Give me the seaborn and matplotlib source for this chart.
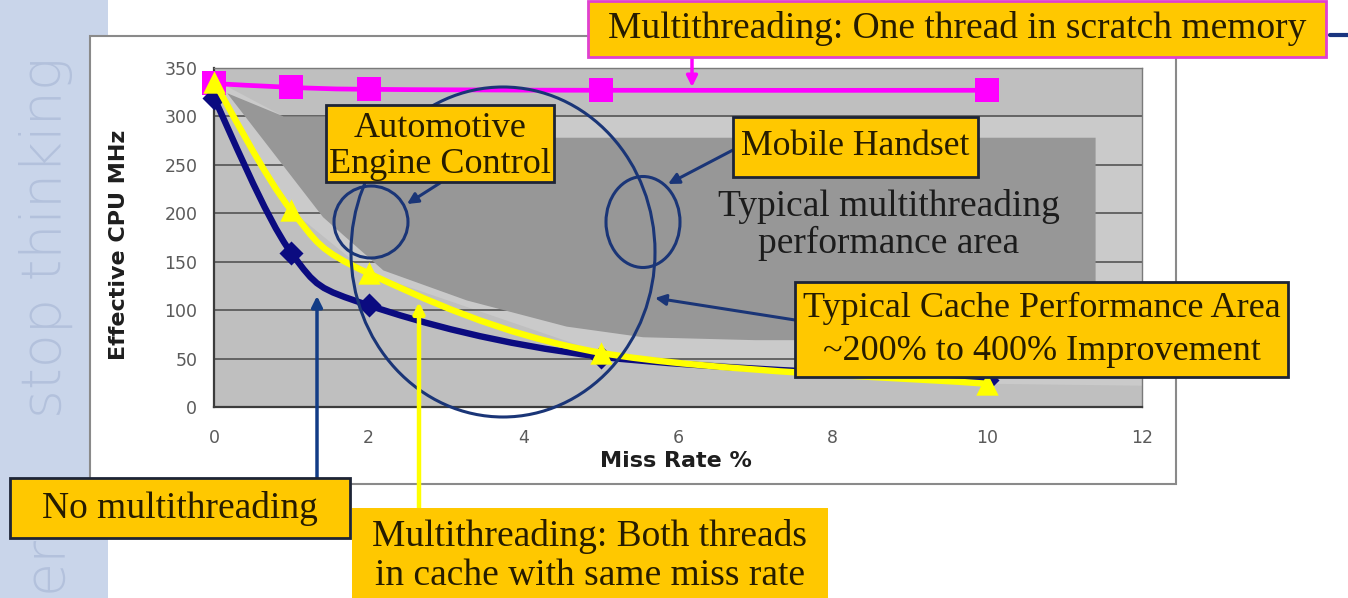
import numpy as np
import pandas as pd
import matplotlib
matplotlib.use("Agg")
import matplotlib.pyplot as plt
import seaborn as sns
from matplotlib.patches import Rectangle, Ellipse, Polygon, PathPatch
from matplotlib.path import Path
from matplotlib.lines import Line2D

# ---- data -------------------------------------------------------------
miss_rate = [0, 1, 2, 5, 10]
no_multithreading = [319, 159, 105, 52, 28]
mt_both_in_cache = [336, 203, 138, 56, 24]
mt_one_in_scratch = [334, 330, 328, 327, 327]

x_ticks = [0, 2, 4, 6, 8, 10, 12]
y_ticks = [0, 50, 100, 150, 200, 250, 300, 350]

# shaded regions (miss rate %, MHz)
cache_area_x = [0.05, 0.9, 12.0, 12.0, 10, 5, 2, 1, 0]
cache_area_y = [336, 300, 300, 22, 24, 56, 138, 203, 336]
mt_area_x = [0.17, 0.9, 1.45, 4.4, 11.4, 11.4, 7.0, 5.55, 4.56, 3.27, 2.19, 1.41]
mt_area_y = [324, 300, 300, 278, 278, 69, 69, 72, 83, 110, 141, 196]

# ---- style ------------------------------------------------------------
W, H = 1348, 598
sns.set_theme(style="white")
plt.rcParams["font.family"] = ["DejaVu Sans"]

NAVY = "#0b0b80"
ANN = "#1a3577"
BOX = "#ffc800"
BOX_TXT = "#261c00"
SERIF = ["Liberation Serif", "DejaVu Serif"]

fig = plt.figure(figsize=(W / 100, H / 100), dpi=100)
fig.patch.set_facecolor("white")


def fp(x, y):
    """pixel position measured from the top-left corner -> figure fraction"""
    return (x / W, 1 - y / H)


# slide side band with faint watermark
fig.add_artist(Rectangle((0, 0), 108 / W, 1, transform=fig.transFigure,
                         fc="#c9d5ea", ec="none", zorder=-3))
fig.text(*fp(46, 418), "stop thinking", rotation=90, ha="center", va="bottom",
         fontsize=40, color="#b3c1dc", fontweight="light", zorder=-2)
fig.text(*fp(46, 592), "er", rotation=90, ha="center", va="bottom",
         fontsize=40, color="#b3c1dc", fontweight="light", zorder=-2)
fig.add_artist(Line2D([1330 / W, 1], [1 - 35 / H] * 2, transform=fig.transFigure,
                      color="#1a3580", lw=3, zorder=-2))

# chart frame
x0, y0 = fp(90, 484)
fig.add_artist(Rectangle((x0, y0), (1176 - 90) / W, (484 - 36) / H,
                         transform=fig.transFigure, fc="white", ec="#8a8a8a",
                         lw=1.5, zorder=-1))

ax = fig.add_axes([214 / W, 1 - 407 / H, (1142 - 214) / W, (407 - 68) / H])
ax.set_facecolor("#bfbfbf")
ax.set_xlim(0, 12)
ax.set_ylim(0, 350)

# regions
ax.add_patch(Polygon(np.column_stack([cache_area_x, cache_area_y]), closed=True,
                     fc="#cacaca", ec="none", zorder=0.5))
for yv in y_ticks[1:]:
    ax.axhline(yv, color="#4a4a4a", lw=1.1, zorder=0.8)
ax.add_patch(Polygon(np.column_stack([mt_area_x, mt_area_y]), closed=True,
                     fc="#979797", ec="none", zorder=1))


def smooth_path(xs, ys, t=1 / 6):
    pts = np.column_stack([xs, ys]).astype(float)
    n = len(pts)
    verts, codes = [pts[0]], [Path.MOVETO]
    for i in range(n - 1):
        p0 = pts[i - 1] if i > 0 else pts[i]
        p1, p2 = pts[i], pts[i + 1]
        p3 = pts[i + 2] if i + 2 < n else pts[i + 1]
        verts += [p1 + (p2 - p0) * t, p2 - (p3 - p1) * t, p2]
        codes += [Path.CURVE4] * 3
    return Path(verts, codes)


df = pd.DataFrame({
    "miss": miss_rate * 3,
    "mhz": no_multithreading + mt_both_in_cache + mt_one_in_scratch,
    "config": (["No multithreading"] * 5 + ["Both threads in cache"] * 5
               + ["One thread in scratch"] * 5),
})
# drawing order: scratch (bottom), no multithreading, both in cache (top)
styles = {
    "One thread in scratch": ("#ff00ff", "s", 320, 3.4),
    "No multithreading": (NAVY, "D", 150, 4.6),
    "Both threads in cache": ("#ffff00", "^", 260, 4.6),
}
for k, (name, (col, mk, sz, lw)) in enumerate(styles.items()):
    sub = df[df["config"] == name]
    ax.add_patch(PathPatch(smooth_path(sub["miss"], sub["mhz"]), fc="none",
                           ec=col, lw=lw, capstyle="round", zorder=3 + k * 0.1))
    sns.scatterplot(data=sub, x="miss", y="mhz", marker=mk, s=sz, color=col,
                    linewidth=0, ax=ax, zorder=3.05 + k * 0.1, clip_on=False,
                    legend=False)

# axes
ax.set_xticks(x_ticks)
ax.set_yticks(y_ticks)
ax.tick_params(axis="both", direction="out", length=7, width=1, color="#444444",
               labelcolor="#5a5a5a", labelsize=12.5, pad=5)
ax.tick_params(axis="x", pad=9)
for s in ("left", "bottom"):
    ax.spines[s].set_color("#3c3c3c")
    ax.spines[s].set_linewidth(1.6)
for s in ("top", "right"):
    ax.spines[s].set_color("#7a7a7a")
    ax.spines[s].set_linewidth(1.0)
ax.set_xlabel("Miss Rate %", fontsize=16, fontweight="bold", color="#1e1e1e")
ax.set_ylabel("Effective CPU MHz", fontsize=16, fontweight="bold", color="#1e1e1e")
ax.xaxis.set_label_coords((676 - 214) / (1142 - 214), -(451 - 407) / (407 - 68))
ax.yaxis.set_label_coords(-(214 - 129) / (1142 - 214), (407 - 245) / (407 - 68))


# annotation circles
def px2data(x, y):
    return ((x - 214) / (1142 - 214) * 12, (407 - y) / (407 - 68) * 350)


def add_ellipse(cx, cy, w, h):
    dx, dy = px2data(cx, cy)
    ax.add_patch(Ellipse((dx, dy), w / (1142 - 214) * 12, h / (407 - 68) * 350,
                         fc="none", ec=ANN, lw=2.2, zorder=5, clip_on=False))


add_ellipse(503, 252, 304, 330)
add_ellipse(371, 222, 74, 72)
add_ellipse(643, 222, 74, 91)

ax.text(*px2data(889, 225), "Typical multithreading\nperformance area",
        ha="center", va="center", fontsize=27, color="#1c1c1c",
        family=SERIF, linespacing=1.1, zorder=5)


# call-out boxes
def box(x1, y1, x2, y2, text, ec, size, lw=2.0, ls=1.0, cx=None, cy=None):
    bx, by = fp(x1, y2)
    fig.add_artist(Rectangle((bx, by), (x2 - x1) / W, (y2 - y1) / H,
                             transform=fig.transFigure, fc=BOX, ec=ec, lw=lw,
                             zorder=6))
    cx = (x1 + x2) / 2 if cx is None else cx
    cy = (y1 + y2) / 2 if cy is None else cy
    fig.text(*fp(cx, cy), text, ha="center", va="center", fontsize=size,
             color=BOX_TXT, family=SERIF, linespacing=ls, zorder=7)


def arrow(x_from, y_from, x_to, y_to, color, lw=2.2):
    ax.annotate("", xy=px2data(x_to, y_to), xycoords="data",
                xytext=fp(x_from, y_from), textcoords="figure fraction",
                arrowprops=dict(arrowstyle="-|>", color=color, lw=lw,
                                mutation_scale=16, shrinkA=0, shrinkB=0),
                annotation_clip=False, zorder=6)


arrow(692, 57, 692, 87, "#ff00ff", lw=2.5)
arrow(440, 183, 407, 204, ANN)
arrow(733, 150, 668, 184, ANN)
arrow(795, 320, 655, 298, ANN)
arrow(317, 478, 317, 296, "#123c86", lw=2.5)
arrow(419, 508, 419, 302, "#ffff00", lw=3.2)

box(588, 1, 1326, 57, "Multithreading: One thread in scratch memory", "#e040d0",
    27, cy=28)
box(326, 105, 554, 182, "Automotive\nEngine Control", "#1d2436", 26,
    ls=1.12, cy=146)
box(733, 117, 978, 177, "Mobile Handset", "#1d2436", 25.7, cy=147)
box(795, 282, 1288, 377, "Typical Cache Performance Area\n~200% to 400% Improvement",
    "#1d2436", 26, ls=1.42, cy=330)
box(10, 478, 350, 538, "No multithreading", "#1d2436", 27, cy=508)
box(352, 508, 828, 620, "Multithreading: Both threads\nin cache with same miss rate",
    BOX, 27, lw=0, ls=1.18, cy=556)

fig.savefig("out.png", dpi=100)
